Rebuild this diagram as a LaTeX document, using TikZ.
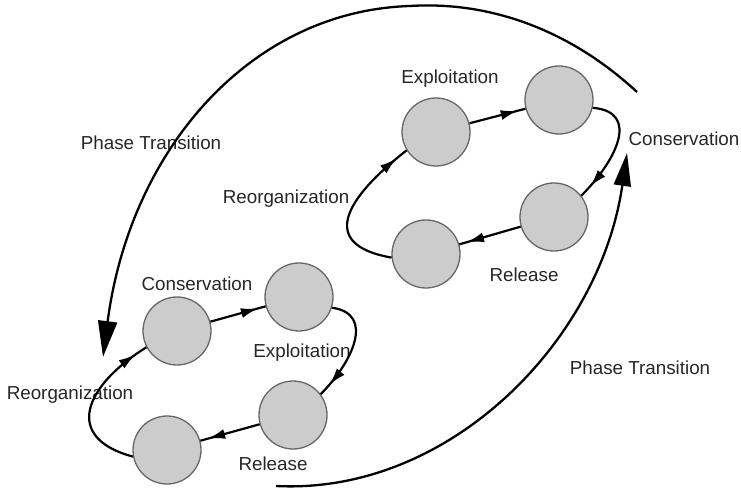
\documentclass[tikz,border=0pt]{standalone}
\usepackage{fontspec}
\setmainfont{Liberation Sans}
\usetikzlibrary{arrows.meta,decorations.markings}
\tikzset{
  state/.style={circle,draw=black!60,fill=black!20,line width=1.3pt,minimum size=68pt,inner sep=0pt},
  lbl/.style={font=\fontsize{18.8}{22}\selectfont,text=black!85,inner sep=0pt},
  flow/.style={line width=2.2pt,postaction={decorate},decoration={markings,mark=at position -#1 with {\arrow{Latex[length=17pt,width=10pt]}}}},
  flow/.default=8pt,
  phase/.style={line width=2.3pt},
}
\begin{document}
\begin{tikzpicture}[x=1pt,y=1pt]
\useasboundingbox (0,0) rectangle (741,490);
% upper cycle
\node[state] (A) at (436,358) {};
\node[state] (B) at (559,390) {};
\node[state] (C) at (554,273) {};
\node[state] (D) at (426,236) {};
% lower cycle
\node[state] (E) at (177,159) {};
\node[state] (F) at (299,193) {};
\node[state] (G) at (293,75) {};
\node[state] (H) at (167,40) {};
% labels
\node[lbl] (l1) at (450,411) {Exploitation};
\node[lbl] (l2) at (684,351) {Conservation};
\node[lbl] (l3) at (286,291) {Reorganization};
\node[lbl] (l4) at (524,215) {Release};
\node[lbl] (l5) at (197,206) {Conservation};
\node[lbl] (l6) at (302,137) {Exploitation};
\node[lbl] (l7) at (70,95) {Reorganization};
\node[lbl] (l8) at (273,26) {Release};
\node[lbl] (p1) at (151,347) {Phase Transition};
\node[lbl] (p2) at (640,122) {Phase Transition};
% upper cycle connectors
\draw[flow] (A) -- (B);
\draw[flow=13pt] (B.-13) to[out=-5,in=45,looseness=1.4] (C.38);
\draw[flow] (C) -- (D);
\draw[flow=13pt] (D.186) to[out=170,in=218,looseness=1.8] (A.212);
% lower cycle connectors
\draw[flow] (E) -- (F);
\draw[flow=13pt] (F.-18) to[out=-8,in=45,looseness=1.3] (G.37);
\draw[flow] (G) -- (H);
\draw[flow=13pt] (H.191) to[out=165,in=212,looseness=1.7] (E.208);
% phase transitions
\coordinate (s1) at (637,398);
\coordinate (m1) at (410,484);
\coordinate (t1) at (103,133);
\draw[phase,-{Triangle[length=36pt,width=19pt]}] (s1) .. controls (570,460) and (490,489) .. (m1)
  .. controls (250,479) and (130,340) .. (t1);
\coordinate (s2) at (276,4);
\coordinate (t2) at (627,337);
\draw[phase,-{Triangle[length=33pt,width=17pt]}] (s2) .. controls (450,-5) and (600,150) .. (t2);
\end{tikzpicture}
\end{document}
